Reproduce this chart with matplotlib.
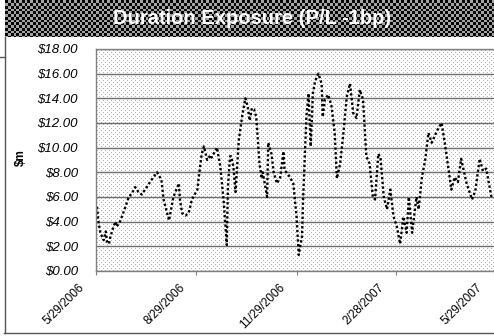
import numpy as np
import pandas as pd
import matplotlib
matplotlib.use("Agg")
import matplotlib.pyplot as plt
from matplotlib.lines import Line2D
from matplotlib.transforms import IdentityTransform, ScaledTranslation
from matplotlib import font_manager as fm

# ---------------- data ----------------
start_date = "2006-05-29"
day_offset = [1, 2, 4, 7, 9, 10, 12, 13, 16, 18, 19, 22, 27, 30, 33, 36, 39, 42, 45, 48,
              51, 56, 60, 62, 67, 71, 76, 77, 79, 82, 85, 88, 93, 94, 97, 99, 102, 105, 106, 111,
              114, 117, 120, 121, 123, 124, 126, 128, 131, 134, 137, 139, 141, 143, 145, 147, 150, 152, 153, 157,
              158, 161, 163, 166, 169, 172, 173, 178, 181, 184, 186, 189, 190, 193, 195, 197, 199, 201, 204, 207,
              208, 210, 213, 216, 219, 221, 224, 227, 230, 233, 236, 239, 242, 245, 248, 251, 254, 256, 259, 261,
              264, 267, 270, 273, 276, 279, 282, 285, 287, 290, 294, 296, 299, 302, 305, 308, 313, 317, 320, 326,
              329, 332, 335, 340, 345, 348, 352, 355, 358, 363]
exposure = [5.2, 4.1, 3.1, 2.5, 3.2, 2.4, 2.2, 2.7, 3.6, 4.0, 3.6, 4.0, 5.2, 6.0, 6.3, 6.8, 6.4, 6.2, 6.6, 7.0,
            7.4, 8.0, 7.4, 5.8, 4.1, 6.0, 7.1, 5.8, 4.7, 4.5, 4.7, 5.8, 6.6, 7.4, 9.5, 10.1, 9.0, 9.4, 9.2, 10.0,
            8.5, 5.8, 2.1, 6.8, 9.3, 9.3, 8.5, 6.4, 10.6, 12.5, 14.0, 13.4, 12.2, 13.2, 13.1, 12.5, 8.7, 7.5, 8.0, 6.0,
            10.4, 9.5, 8.0, 7.1, 7.6, 9.7, 8.2, 7.6, 7.1, 4.4, 1.3, 2.8, 5.8, 12.5, 14.4, 10.1, 14.4, 15.4, 16.0, 15.2,
            12.5, 13.9, 14.3, 13.4, 11.2, 7.5, 8.7, 11.2, 14.1, 15.2, 12.8, 12.4, 14.7, 13.9, 9.3, 8.7, 6.0, 5.8, 9.5, 9.2,
            6.0, 5.0, 6.6, 4.4, 3.6, 2.2, 4.4, 3.1, 6.0, 3.1, 6.0, 5.0, 7.6, 9.0, 11.2, 10.4, 11.4, 12.0, 10.4, 6.6,
            7.6, 7.2, 9.1, 7.1, 5.8, 6.5, 9.1, 8.1, 8.3, 5.9]
tick_labels = ["5/29/2006", "8/29/2006", "11/29/2006", "2/28/2007", "5/29/2007"]
y_ticks = [0, 2, 4, 6, 8, 10, 12, 14, 16, 18]
y_tick_labels = ["\\$0.00", "\\$2.00", "\\$4.00", "\\$6.00", "\\$8.00",
                 "\\$10.00", "\\$12.00", "\\$14.00", "\\$16.00", "\\$18.00"]
title = "Duration Exposure (P/L -1bp)"
y_label = "\\$m"

dates = np.datetime64(start_date) + np.array(day_offset).astype("timedelta64[D]")
tick_dates = pd.to_datetime(tick_labels, format="%m/%d/%Y")

# pick a family that really has an italic face
italic_family = "DejaVu Sans"
for fam in ["Liberation Sans", "Noto Sans", "Open Sans", "Roboto", "Lato", "Inter"]:
    try:
        p = fm.findfont(fm.FontProperties(family=fam, style="italic"), fallback_to_default=False)
        if "ital" in p.lower() or "oblique" in p.lower():
            italic_family = fam
            break
    except Exception:
        pass
ital_size = 9.5 if italic_family != "DejaVu Sans" else 8.5

# ---------------- figure ----------------
W, H = 494, 336
plt.rcParams["font.family"] = ["Liberation Sans", "DejaVu Sans"]
fig = plt.figure(figsize=(W / 100, H / 100), dpi=100)

# title bar (dark checkered pattern)
tb_w, tb_h = W - 5, 37
yy, xx = np.mgrid[0:tb_h, 0:tb_w]
chk = ((np.floor(xx / 2.75) + np.floor(yy / 2.75)) % 2).astype(float)
tb = np.dstack([chk * 0.62 + 0.02] * 3)
fig.figimage(tb, xo=5, yo=H - tb_h, origin="upper", zorder=-2)

# plot area dotted background
pl, pt, pb = 96, 49, 271
bg_w, bg_h = W - pl, pb - pt
yy, xx = np.mgrid[0:bg_h, 0:bg_w]
dots = ((yy % 4 == 1) & (xx % 4 == 1)) | ((yy % 4 == 3) & (xx % 4 == 3))
bg = np.ones((bg_h, bg_w, 3))
bg[dots] = 0.70
fig.figimage(bg, xo=pl, yo=H - pb, origin="upper", zorder=-1)

# outer frame lines
fc = "#555555"
fig.add_artist(Line2D([4.5, 4.5], [H - 37, H - 333], transform=IdentityTransform(), color=fc, lw=1))
fig.add_artist(Line2D([4, W], [H - 333, H - 333], transform=IdentityTransform(), color=fc, lw=1))
fig.add_artist(Line2D([0, 4.5], [H - 57, H - 57], transform=IdentityTransform(), color=fc, lw=1))

# axes
xlim_days = 368
px_per_day = 1.09
ax_w = xlim_days * px_per_day
ax = fig.add_axes([pl / W, (H - pb) / H, ax_w / W, (pb - pt) / H])
ax.set_facecolor("none")

ax.plot(dates, exposure, color="black", lw=1.7, linestyle=(0, (1, 1)), dash_capstyle="butt")

ax.grid(axis="y", color="#6e6e6e", lw=1)
ax.set_axisbelow(True)
for s in ax.spines.values():
    s.set_color("#808080")
    s.set_linewidth(1)
ax.tick_params(axis="y", length=0, pad=13)
ax.tick_params(axis="x", length=3, color="#808080", pad=4)

ax.set_ylim(0, 18)
ax.set_yticks(y_ticks, labels=y_tick_labels, fontstyle="italic", fontsize=ital_size,
              family=italic_family)
ax.set_xlim(np.datetime64(start_date), np.datetime64(start_date) + np.timedelta64(xlim_days, "D"))
ax.set_xticks(tick_dates, labels=tick_labels, rotation=45, ha="right", va="top", fontsize=8.5)
shift = ScaledTranslation(-9 / 100, -1 / 100, fig.dpi_scale_trans)
for tk in ax.xaxis.get_major_ticks():
    tk.label1.set_transform(tk.label1.get_transform() + shift)

fig.text(252 / W, 1 - 19 / H, title, color="white", fontweight="bold", fontsize=14.5,
         ha="center", va="center")
fig.text(21 / W, 1 - 158 / H, y_label, rotation=90, fontweight="bold", fontsize=8.5,
         ha="center", va="center")

fig.savefig("out.png", dpi=100)
